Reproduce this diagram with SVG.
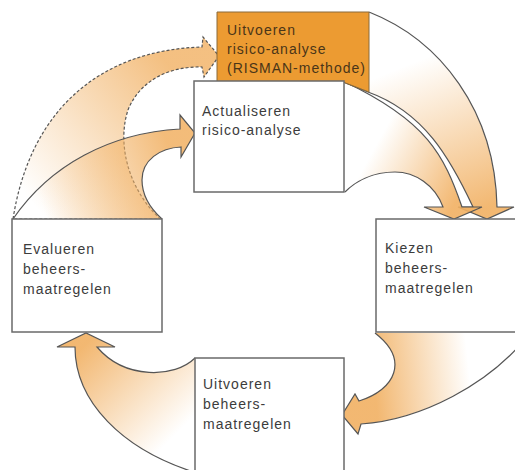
<svg xmlns="http://www.w3.org/2000/svg" width="515" height="470" viewBox="0 0 515 470">
<style>
.box{fill:#fff;stroke:#6a6a6a;stroke-width:1.5}
.obox{fill:#EC9B32;stroke:#8a6a3a;stroke-width:1}
.arr{stroke:#555;stroke-width:1.2;stroke-linejoin:miter}
.dash{stroke-dasharray:3 2}
.t{font-family:"Liberation Sans",Arial,sans-serif;font-size:14px;letter-spacing:1px;fill:#3c3c3c}
.to{fill:#4a3518}
</style>
<defs>
<linearGradient id="gA" gradientUnits="userSpaceOnUse" x1="30" y1="200" x2="180" y2="80">
<stop offset="0" stop-color="#F1B062" stop-opacity="0"/>
<stop offset="1" stop-color="#F1B062" stop-opacity="0.8"/>
</linearGradient>
<linearGradient id="gB" gradientUnits="userSpaceOnUse" x1="40" y1="200" x2="170" y2="150">
<stop offset="0" stop-color="#F1B062" stop-opacity="0"/>
<stop offset="1" stop-color="#F1B062" stop-opacity="0.85"/>
</linearGradient>
<linearGradient id="gC" gradientUnits="userSpaceOnUse" x1="420" y1="60" x2="480" y2="210">
<stop offset="0" stop-color="#F1B062" stop-opacity="0"/>
<stop offset="1" stop-color="#F1B062" stop-opacity="0.9"/>
</linearGradient>
<linearGradient id="gD" gradientUnits="userSpaceOnUse" x1="365" y1="165" x2="450" y2="212">
<stop offset="0" stop-color="#F1B062" stop-opacity="0"/>
<stop offset="1" stop-color="#F1B062" stop-opacity="0.9"/>
</linearGradient>
<linearGradient id="gE" gradientUnits="userSpaceOnUse" x1="470" y1="380" x2="375" y2="390">
<stop offset="0" stop-color="#F1B062" stop-opacity="0"/>
<stop offset="1" stop-color="#F1B062" stop-opacity="0.9"/>
</linearGradient>
<linearGradient id="gF" gradientUnits="userSpaceOnUse" x1="170" y1="440" x2="80" y2="350">
<stop offset="0" stop-color="#F1B062" stop-opacity="0"/>
<stop offset="1" stop-color="#F1B062" stop-opacity="0.9"/>
</linearGradient>
</defs>
<g id="connectors">
<path id="arrA" class="arr dash" fill="url(#gA)" d="M13,219 C30,110 100,50 202,47 L203,37 L219,56 L204,77 L202,67 C170,66 140,80 128,110 C118,140 125,185 160,219 Z"/>
<path id="arrB" class="arr" fill="url(#gB)" d="M13,219 C50,165 110,133 180,129 L180,115 L195,133 L181,157 L181,147 C160,148 142,160 142,180 C142,198 152,210 162,219"/>
<path id="arrC" class="arr" fill="url(#gC)" d="M369,12 C440,40 495,110 497,207 L514,207 L487,219 L458,207 L473,207 C450,158 424,112 368,92 L343,82"/>
<path id="arrD" class="arr" fill="url(#gD)" d="M345,82 C427,121 444,155 462,207 L482,207 L454,219 L424,207 L443,207 C435,185 415,172 395,172 C372,172 355,182 345,192"/>
<path id="arrE" class="arr" fill="url(#gE)" d="M375,333 C410,360 395,390 359,401 L355,394 L342,415 L358,434 L361,424 C420,420 490,385 530,333"/>
<path id="arrF" class="arr" fill="url(#gF)" d="M195,358 C175,378 125,380 97,347 L115,347 L86,333 L57,347 L75,347 C75,400 120,450 200,474"/>
</g>
<g id="node-risman">
<path class="obox" d="M217,12 H369 V92 L343,82 H217 Z"/>
<text class="t to" x="227" y="35">Uitvoeren</text>
<text class="t to" x="227" y="54">risico-analyse</text>
<text class="t to" x="227" y="73">(RISMAN-methode)</text>
</g>
<g id="node-actualiseren">
<rect class="box" x="194" y="81" width="150" height="111"/>
<text class="t" x="202" y="116">Actualiseren</text>
<text class="t" x="202" y="135">risico-analyse</text>
</g>
<g id="node-evalueren">
<rect class="box" x="12" y="219" width="150" height="113"/>
<text class="t" x="23" y="254">Evalueren</text>
<text class="t" x="23" y="274">beheers-</text>
<text class="t" x="23" y="294">maatregelen</text>
</g>
<g id="node-kiezen">
<rect class="box" x="376" y="219" width="150" height="113"/>
<text class="t" x="385" y="253">Kiezen</text>
<text class="t" x="385" y="273">beheers-</text>
<text class="t" x="385" y="293">maatregelen</text>
</g>
<g id="node-uitvoeren">
<rect class="box" x="195" y="358" width="149" height="120"/>
<text class="t" x="203" y="389">Uitvoeren</text>
<text class="t" x="203" y="409">beheers-</text>
<text class="t" x="203" y="429">maatregelen</text>
</g>
</svg>
